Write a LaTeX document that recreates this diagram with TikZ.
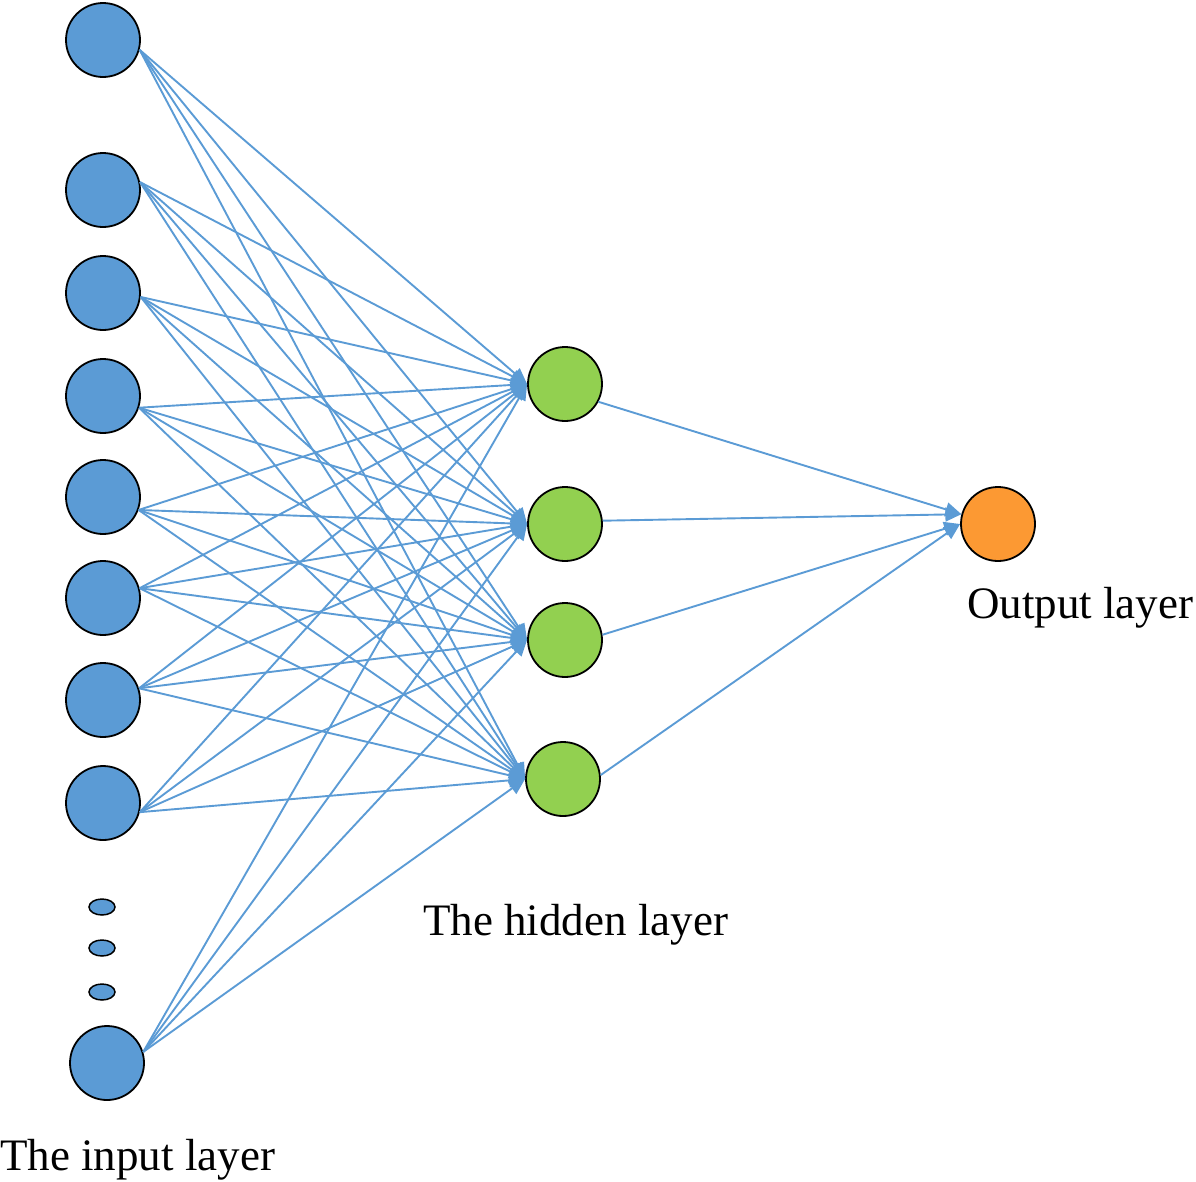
\documentclass[tikz,border=0pt]{standalone}
\usepackage{fontspec}
\setmainfont{Liberation Serif}
\usepackage{xcolor}
\usepackage{tikz}
\usetikzlibrary{positioning,arrows.meta,shapes.geometric}

\definecolor{inblue}{RGB}{91,155,213}
\definecolor{hidgreen}{RGB}{146,208,80}
\definecolor{outorange}{RGB}{252,153,51}

\begin{document}
\begin{tikzpicture}[x=1pt, y=-1pt,
  every node/.style={font=\fontsize{45}{54}\selectfont},
  neuron/.style={circle, draw=black, line width=1.8pt, minimum size=74pt, inner sep=0pt},
  inneuron/.style={neuron, fill=inblue},
  hidneuron/.style={neuron, fill=hidgreen},
  outneuron/.style={neuron, fill=outorange},
  moredots/.style={ellipse, draw=black, line width=1.5pt, fill=inblue, minimum width=26pt, minimum height=16pt, inner sep=0pt},
  layername/.style={anchor=base west, inner sep=0pt},
  link/.style={draw=inblue, line width=1.9pt, -{Triangle[length=16pt,width=14pt]}}]
\useasboundingbox (0,0) rectangle (1196,1181);

% input layer
\foreach \i/\y in {1/40,2/190,3/293,4/396,5/497,6/598,7/700,8/803}
  \node[inneuron] (in\i) at (103,\y) {};
\node[moredots] (dotA) at (102,907) {};
\node[moredots] (dotB) at (102,948) {};
\node[moredots] (dotC) at (102,992) {};
\node[inneuron] (in9) at (107,1063) {};

% hidden layer
\node[hidneuron] (hid1) at (565,384) {};
\node[hidneuron] (hid2) at (565,524) {};
\node[hidneuron] (hid3) at (565,640) {};
\node[hidneuron] (hid4) at (563,779) {};

% output layer
\node[outneuron] (out) at (998,524) {};

% connections (each input fans out from one point)
\foreach \i/\a in {1/-15,2/12,3/-6,4/-18,5/-20,6/15,7/18,8/-14,9/17}
  \foreach \j in {1,...,4}
    \draw[link] (in\i.\a) -- (hid\j.west);
\foreach \j/\a/\b in {1/-28/165,2/5/165,3/8/180,4/6/180}
  \draw[link] (hid\j.\a) -- (out.\b);

% labels
\node[layername] (inlabel) at (0,1170) {The input layer};
\node[layername] (hidlabel) at (423,935) {The hidden layer};
\node[layername] (outlabel) at (967,618) {Output layer};
\end{tikzpicture}
\end{document}
